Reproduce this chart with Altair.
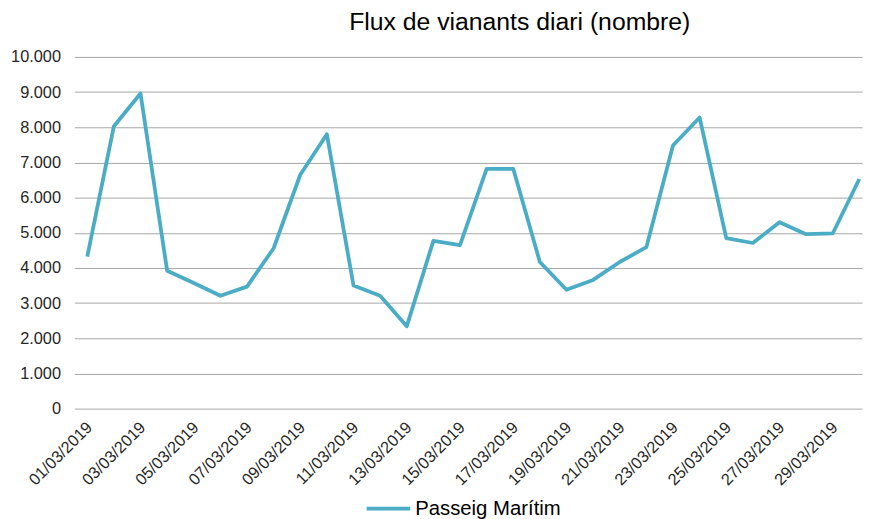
import altair as alt
import pandas as pd

dates = ["01/03/2019", "02/03/2019", "03/03/2019", "04/03/2019", "05/03/2019",
         "06/03/2019", "07/03/2019", "08/03/2019", "09/03/2019", "10/03/2019",
         "11/03/2019", "12/03/2019", "13/03/2019", "14/03/2019", "15/03/2019",
         "16/03/2019", "17/03/2019", "18/03/2019", "19/03/2019", "20/03/2019",
         "21/03/2019", "22/03/2019", "23/03/2019", "24/03/2019", "25/03/2019",
         "26/03/2019", "27/03/2019", "28/03/2019", "29/03/2019", "30/03/2019"]
vianants = [4320, 8030, 8960, 3920, 3570, 3210, 3470, 4560, 6650, 7800,
            3500, 3210, 2340, 4770, 4650, 6820, 6820, 4170, 3380, 3660,
            4170, 4590, 7480, 8280, 4850, 4710, 5300, 4960, 4980, 6530]
serie = "Passeig Marítim"
tick_days = [1, 3, 5, 7, 9, 11, 13, 15, 17, 19, 21, 23, 25, 27, 29]
y_ticks = [0, 1000, 2000, 3000, 4000, 5000, 6000, 7000, 8000, 9000, 10000]

FONT = "Liberation Sans"
df = pd.DataFrame({"data": dates, "vianants": vianants, "serie": serie})

chart = alt.Chart(df).transform_calculate(
    dia="toNumber(substring(datum.data, 0, 2))"
).mark_line(strokeWidth=3.8, strokeJoin="round").encode(
    x=alt.X("dia:Q",
            scale=alt.Scale(domain=[0.516, 30.1], nice=False, zero=False),
            axis=alt.Axis(values=tick_days,
                          labelExpr="(datum.value < 10 ? '0' : '') + datum.value + '/03/2019'",
                          labelAngle=-45, labelAlign="right", labelBaseline="middle",
                          labelPadding=16, labelOffset=2,
                          labelFont=FONT, labelFontSize=16.5, labelColor="#262626",
                          grid=False, domain=False, ticks=False, title=None,
                          labelOverlap=False)),
    y=alt.Y("vianants:Q",
            scale=alt.Scale(domain=[0, 10000], nice=False),
            axis=alt.Axis(values=y_ticks,
                          labelExpr="replace(format(datum.value, ','), ',', '.')",
                          labelFont=FONT, labelFontSize=16.5, labelColor="#262626",
                          labelPadding=14, grid=True, gridColor="#A6A6A6", gridWidth=1,
                          domain=False, ticks=False, title=None)),
    color=alt.Color("serie:N", scale=alt.Scale(range=["#4BACC6"]),
                    legend=alt.Legend(orient="none", legendX=293, legendY=432,
                                      title=None, symbolType="stroke", symbolSize=1936,
                                      symbolStrokeWidth=3.8, labelFont=FONT,
                                      labelFontSize=20.5, labelColor="#000000",
                                      labelOffset=3)),
).properties(
    width=795, height=355,
    title=alt.TitleParams("Flux de vianants diari (nombre)", font=FONT, fontSize=25,
                          fontWeight="normal", color="#000000", anchor="middle",
                          frame="group", dx=52, dy=21, offset=15, baseline="alphabetic"),
    autosize=alt.AutoSizeParams(type="none"),
    padding={"left": 67, "top": 47, "right": 1, "bottom": 109},
).configure_view(stroke=None)

chart.save("out.html", embed_options={"renderer": "svg", "actions": False})
